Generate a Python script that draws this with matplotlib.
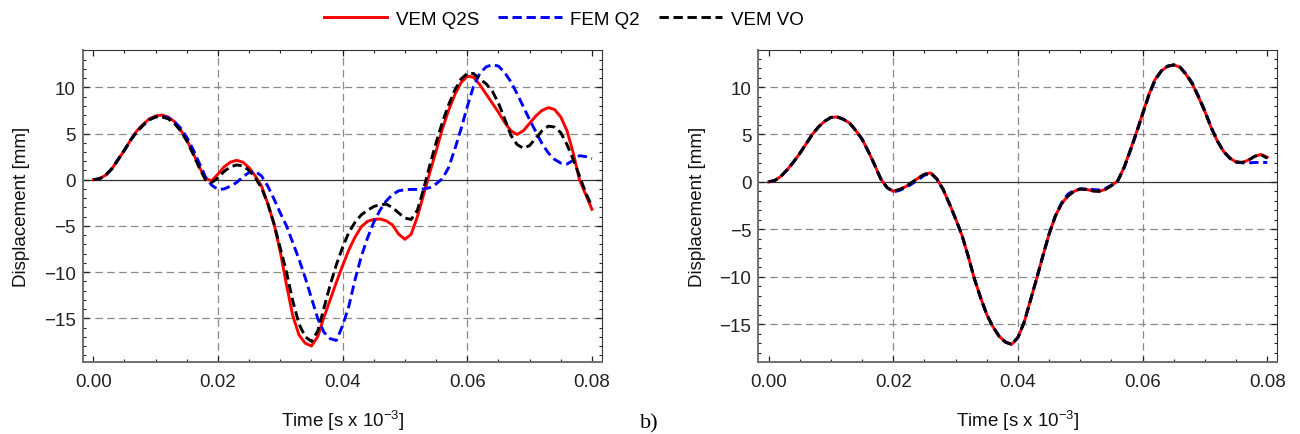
import matplotlib
matplotlib.use("Agg")
import matplotlib.pyplot as plt

plt.rcParams['font.family'] = ['Liberation Sans', 'DejaVu Sans']
plt.rcParams['mathtext.default'] = 'regular'

# time samples [s x 10^-3], one every 0.001
time = [0.000, 0.001, 0.002, 0.003, 0.004, 0.005, 0.006, 0.007, 0.008, 0.009,
        0.010, 0.011, 0.012, 0.013, 0.014, 0.015, 0.016, 0.017, 0.018, 0.019,
        0.020, 0.021, 0.022, 0.023, 0.024, 0.025, 0.026, 0.027, 0.028, 0.029,
        0.030, 0.031, 0.032, 0.033, 0.034, 0.035, 0.036, 0.037, 0.038, 0.039,
        0.040, 0.041, 0.042, 0.043, 0.044, 0.045, 0.046, 0.047, 0.048, 0.049,
        0.050, 0.051, 0.052, 0.053, 0.054, 0.055, 0.056, 0.057, 0.058, 0.059,
        0.060, 0.061, 0.062, 0.063, 0.064, 0.065, 0.066, 0.067, 0.068, 0.069,
        0.070, 0.071, 0.072, 0.073, 0.074, 0.075, 0.076, 0.077, 0.078, 0.079,
        0.080]

# left panel
a_vem_q2s = [0, 0.1, 0.5, 1.2, 2.2, 3.2, 4.3, 5.3, 6.0, 6.6,
             6.9, 7.0, 6.8, 6.3, 5.4, 4.3, 2.9, 1.4, 0.1, -0.1,
             0.6, 1.4, 1.9, 2.1, 1.9, 1.3, 0.4, -0.7, -2.6, -4.8,
             -7.8, -11.4, -14.7, -16.8, -17.7, -18.0, -17.0, -14.9, -13.0, -11.1,
             -9.3, -7.6, -6.2, -5.1, -4.5, -4.3, -4.25, -4.45, -4.9, -5.9,
             -6.45, -5.9, -4.0, -1.6, 0.8, 3.1, 5.5, 7.5, 9.2, 10.5,
             11.2, 11.1, 10.3, 9.3, 8.3, 7.3, 6.2, 5.3, 4.9, 5.3,
             6.1, 6.9, 7.5, 7.8, 7.6, 6.8, 5.3, 2.9, 0.0, -1.6,
             -3.2]
a_fem_q2 = [0, 0.1, 0.5, 1.2, 2.2, 3.2, 4.3, 5.2, 5.9, 6.5,
            6.8, 6.85, 6.7, 6.3, 5.6, 4.6, 3.3, 1.8, 0.3, -0.6,
            -1.05, -1.0, -0.7, -0.3, 0.3, 0.8, 0.9, 0.4, -0.7, -2.1,
            -3.6, -5.0, -6.8, -8.6, -10.6, -12.8, -15.0, -16.5, -17.2, -17.4,
            -15.8, -13.7, -10.8, -8.3, -6.3, -4.6, -3.3, -2.3, -1.6, -1.2,
            -1.08, -1.05, -1.05, -1.0, -0.85, -0.45, 0.1, 1.3, 3.3, 5.5,
            7.9, 10.1, 11.5, 12.2, 12.45, 12.3, 11.6, 10.6, 9.3, 7.9,
            6.5, 5.2, 3.9, 2.9, 2.2, 1.8, 1.7, 2.1, 2.6, 2.5,
            2.3]
a_vem_vo = [0, 0.1, 0.5, 1.2, 2.2, 3.2, 4.3, 5.2, 5.9, 6.5,
            6.8, 6.8, 6.6, 6.1, 5.3, 4.2, 2.8, 1.3, 0.0, -0.3,
            0.2, 0.9, 1.4, 1.6, 1.5, 1.0, 0.2, -0.9, -2.6, -4.8,
            -7.4, -10.0, -13.1, -15.6, -17.0, -17.5, -16.4, -13.9, -11.4, -9.2,
            -7.3, -5.7, -4.6, -3.8, -3.3, -2.9, -2.7, -2.65, -3.0, -3.6,
            -4.15, -4.3, -3.3, -1.0, 1.6, 4.0, 6.2, 8.1, 9.7, 10.9,
            11.5, 11.5, 10.9, 10.4, 9.6, 8.3, 6.6, 4.8, 3.8, 3.4,
            3.7, 4.5, 5.3, 5.8, 5.7, 5.1, 3.8, 2.2, 0.4, -1.4,
            -2.9]

# right panel
b_vem_q2s = [0, 0.15, 0.6, 1.3, 2.1, 3.0, 4.0, 5.0, 5.8, 6.4,
             6.8, 6.85, 6.6, 6.2, 5.4, 4.5, 3.2, 1.8, 0.3, -0.6,
             -1.0, -0.8, -0.5, -0.05, 0.4, 0.8, 0.95, 0.3, -0.8, -2.3,
             -3.9, -5.6, -7.8, -10.2, -12.2, -14.0, -15.3, -16.3, -16.9, -17.15,
             -16.4, -14.8, -12.5, -10.2, -7.8, -5.5, -3.6, -2.3, -1.5, -1.0,
             -0.75, -0.8, -0.95, -1.0, -0.8, -0.4, 0.1, 1.5, 3.3, 5.2,
             7.2, 9.2, 10.8, 11.7, 12.2, 12.34, 12.1, 11.3, 10.3, 8.9,
             7.4, 5.7, 4.3, 3.2, 2.5, 2.1, 2.05, 2.3, 2.7, 2.9,
             2.6]
b_fem_q2 = [0, 0.15, 0.6, 1.3, 2.1, 3.0, 4.0, 5.0, 5.8, 6.4,
            6.8, 6.85, 6.6, 6.2, 5.4, 4.5, 3.2, 1.8, 0.3, -0.6,
            -1.05, -0.9, -0.6, -0.2, 0.25, 0.7, 0.9, 0.3, -0.8, -2.3,
            -3.9, -5.6, -7.8, -10.2, -12.2, -14.0, -15.3, -16.3, -16.9, -17.15,
            -16.4, -14.8, -12.5, -10.2, -7.8, -5.5, -3.6, -2.2, -1.3, -0.9,
            -0.75, -0.75, -0.8, -0.85, -0.7, -0.35, 0.1, 1.4, 3.2, 5.1,
            7.1, 9.1, 10.7, 11.7, 12.2, 12.34, 12.1, 11.4, 10.4, 9.0,
            7.5, 5.8, 4.3, 3.2, 2.5, 2.1, 2.0, 2.0, 2.05, 2.05,
            2.05]
b_vem_vo = [0, 0.15, 0.6, 1.3, 2.1, 3.0, 4.0, 5.0, 5.8, 6.4,
            6.8, 6.85, 6.6, 6.2, 5.4, 4.5, 3.2, 1.8, 0.3, -0.6,
            -1.0, -0.8, -0.5, -0.05, 0.4, 0.8, 0.95, 0.3, -0.8, -2.3,
            -3.9, -5.6, -7.8, -10.2, -12.2, -14.0, -15.3, -16.3, -16.9, -17.15,
            -16.4, -14.8, -12.5, -10.2, -7.8, -5.5, -3.6, -2.3, -1.5, -1.0,
            -0.75, -0.8, -0.95, -1.0, -0.8, -0.4, 0.1, 1.5, 3.3, 5.2,
            7.2, 9.2, 10.8, 11.7, 12.2, 12.34, 12.1, 11.3, 10.3, 8.9,
            7.4, 5.7, 4.3, 3.2, 2.5, 2.1, 2.05, 2.3, 2.7, 2.85,
            2.5]

labels = ['VEM Q2S', 'FEM Q2', 'VEM VO']
x_ticks = [0.00, 0.02, 0.04, 0.06, 0.08]
x_tick_labels = ['0.00', '0.02', '0.04', '0.06', '0.08']
y_ticks = [-15, -10, -5, 0, 5, 10]
x_grid = [0.02, 0.04, 0.06]
y_grid = [-15, -10, -5, 5, 10]

fig = plt.figure(figsize=(13, 4.35), dpi=100)
axL = fig.add_axes([0.0638, 0.1655, 0.3992, 0.7179])
axR = fig.add_axes([0.5833, 0.1655, 0.3992, 0.7179])


def style_axis(ax, ylim):
    ax.set_xlim(-0.00166, 0.0816)
    ax.set_ylim(*ylim)
    for xg in x_grid:
        ax.axvline(xg, color='#8a8a8a', lw=0.9, linestyle=(0, (6, 3.5)), zorder=1)
    for yg in y_grid:
        ax.axhline(yg, color='#8a8a8a', lw=0.9, linestyle=(0, (6, 3.5)), zorder=1)
    ax.axhline(0, color='#333333', lw=0.9, zorder=1)
    ax.set_xticks(x_ticks)
    ax.set_xticklabels(x_tick_labels)
    ax.set_xticks([i * 0.005 for i in range(17)], minor=True)
    ax.set_yticks(y_ticks)
    ax.set_yticks(range(-19, 14), minor=True)
    ax.tick_params(which='both', direction='in', top=True, right=True,
                   labelsize=13.5, colors='#222222')
    ax.tick_params(which='major', length=4.5, width=0.9)
    ax.tick_params(which='minor', length=2.4, width=0.8)
    ax.tick_params(axis='x', pad=8)
    ax.tick_params(axis='y', pad=5)
    for side in ['left', 'bottom']:
        ax.spines[side].set_color('#707070')
        ax.spines[side].set_linewidth(1.4)
    for side in ['top', 'right']:
        ax.spines[side].set_color('#333333')
        ax.spines[side].set_linewidth(0.8)
    ax.set_xlabel('Time [s x 10$^{-3}$]', fontsize=13.5, labelpad=13, color='#111111')
    ax.set_ylabel('Displacement [mm]', fontsize=13.5, labelpad=10, color='#111111')


def draw(ax, red, blue, black):
    h1, = ax.plot(time, red, color='#ff0000', lw=2.1, zorder=3, label=labels[0])
    h2, = ax.plot(time, blue, color='#0000ff', lw=2.1, zorder=4,
                  dashes=(3.2, 1.6), label=labels[1])
    h3, = ax.plot(time, black, color='#000000', lw=2.1, zorder=5,
                  dashes=(3.2, 1.6), label=labels[2])
    return [h1, h2, h3]


style_axis(axL, (-19.73, 14.07))
style_axis(axR, (-18.83, 13.94))
handles = draw(axL, a_vem_q2s, a_fem_q2, a_vem_vo)
draw(axR, b_vem_q2s, b_fem_q2, b_vem_vo)

fig.legend(handles=handles, labels=labels, loc='center', bbox_to_anchor=(0.4335, 0.954),
           ncol=3, frameon=False, fontsize=13.5, handlelength=3.4,
           handletextpad=0.45, columnspacing=1.0)

fig.text(0.4923, 0.016, 'b)', fontsize=16, family='Liberation Serif', va='baseline')

fig.savefig('out.png', dpi=100)
